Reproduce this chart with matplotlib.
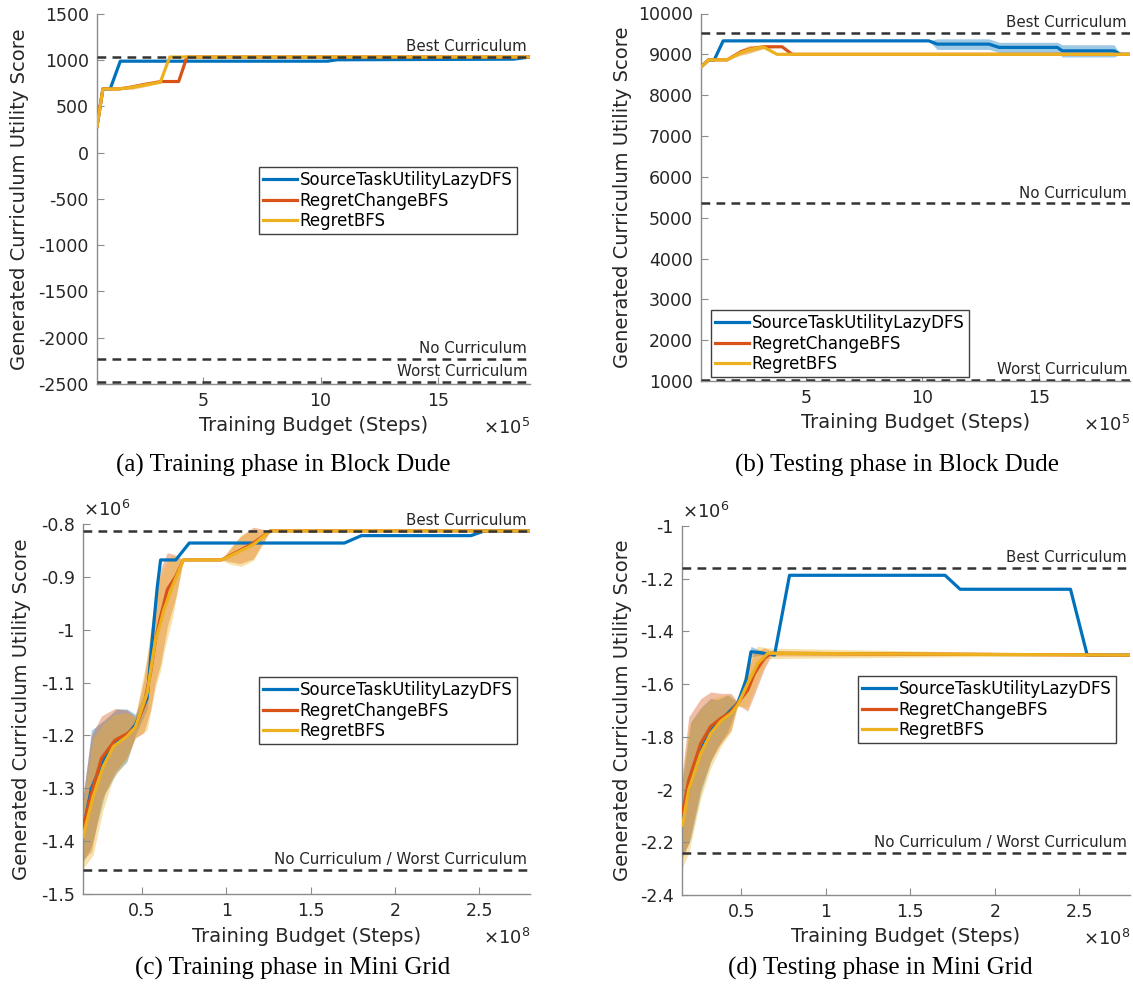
import numpy as np
import matplotlib
matplotlib.use("Agg")
import matplotlib.pyplot as plt
from matplotlib.ticker import FormatStrFormatter

# Series names and MATLAB default colours
nomes = ["SourceTaskUtilityLazyDFS", "RegretChangeBFS", "RegretBFS"]
cores = ["#0072BD", "#D95319", "#EDB120"]

# ---- (a) Training phase in Block Dude (x em 1e5 passos) ----
a_blue_x = [0.5, 0.75, 1.06, 1.49, 10.3, 10.7, 18.2, 18.9]
a_blue_y = [285, 690, 690, 990, 990, 1005, 1012, 1035]
a_blue_err = [0, 0, 0, 0, 0, 5, 5, 0]
a_red_x = [0.5, 0.75, 1.45, 2.0, 2.5, 3.23, 3.97, 4.32, 18.9]
a_red_y = [285, 690, 690, 712, 738, 770, 770, 1035, 1035]
a_red_err = [0, 0, 5, 22, 22, 10, 0, 0, 0]
a_yel_x = [0.5, 0.75, 1.45, 2.0, 2.5, 3.19, 3.59, 18.9]
a_yel_y = [285, 690, 690, 708, 732, 762, 1035, 1035]
a_yel_err = [0, 0, 5, 22, 22, 10, 0, 0]
a_refs = [(1035, "Best Curriculum"), (-2230, "No Curriculum"), (-2480, "Worst Curriculum")]

# ---- (b) Testing phase in Block Dude ----
b_blue_x = [0.5, 0.83, 1.07, 1.45, 10.27, 10.63, 12.85, 13.28, 15.78, 16.0, 18.21, 18.5, 18.9]
b_blue_y = [8690, 8865, 8865, 9330, 9330, 9250, 9250, 9170, 9170, 9085, 9085, 9000, 9000]
b_blue_err = [0, 0, 0, 0, 0, 130, 130, 125, 125, 150, 150, 0, 0]
b_red_x = [0.5, 0.83, 1.62, 2.2, 2.6, 3.19, 3.98, 4.41, 18.9]
b_red_y = [8690, 8865, 8865, 9060, 9130, 9185, 9185, 9000, 9000]
b_red_err = [0, 0, 0, 70, 90, 40, 0, 0, 0]
b_yel_x = [0.5, 0.83, 1.62, 2.2, 2.6, 3.18, 3.76, 18.9]
b_yel_y = [8690, 8865, 8865, 9040, 9120, 9180, 9000, 9000]
b_yel_err = [0, 0, 0, 70, 90, 40, 0, 0]
b_refs = [(9530, "Best Curriculum"), (5350, "No Curriculum"), (1030, "Worst Curriculum")]

# ---- (c) Training phase in Mini Grid (x em 1e8, y em 1e6) ----
c_blue_x = [0.15, 0.2, 0.28, 0.35, 0.41, 0.46, 0.53, 0.56, 0.59, 0.61, 0.70, 0.78, 1.70, 1.80, 2.45, 2.53, 2.8]
c_blue_y = [-1.38, -1.30, -1.24, -1.21, -1.20, -1.18, -1.13, -1.02, -0.92, -0.868, -0.868, -0.836, -0.836,
            -0.822, -0.822, -0.813, -0.813]
c_blue_err = [0.06, 0.11, 0.07, 0.06, 0.05, 0.02, 0.02, 0.02, 0.01, 0, 0, 0, 0, 0, 0, 0, 0]
c_red_x = [0.15, 0.20, 0.26, 0.34, 0.41, 0.46, 0.51, 0.55, 0.58, 0.61, 0.65, 0.70, 0.745, 0.97, 1.08, 1.16, 1.26, 2.8]
c_red_y = [-1.375, -1.31, -1.243, -1.209, -1.197, -1.185, -1.145, -1.082, -1.019, -0.975, -0.924, -0.899,
           -0.868, -0.868, -0.85, -0.836, -0.813, -0.813]
c_red_err = [0.06, 0.11, 0.08, 0.06, 0.045, 0.02, 0.05, 0.07, 0.08, 0.09, 0.07, 0.04, 0, 0, 0.025, 0.03, 0, 0]
c_yel_x = [0.15, 0.21, 0.27, 0.33, 0.41, 0.46, 0.53, 0.58, 0.61, 0.63, 0.68, 0.745, 0.97, 1.02, 1.09, 1.16, 1.26, 2.8]
c_yel_y = [-1.392, -1.316, -1.259, -1.221, -1.202, -1.185, -1.12, -1.019, -0.987, -0.962, -0.918, -0.868,
           -0.868, -0.861, -0.85, -0.839, -0.813, -0.813]
c_yel_err = [0.06, 0.11, 0.08, 0.06, 0.045, 0.02, 0.07, 0.09, 0.09, 0.08, 0.06, 0, 0, 0.015, 0.03, 0.03, 0, 0]
c_refs = [(-0.813, "Best Curriculum"), (-1.455, "No Curriculum / Worst Curriculum")]

# ---- (d) Testing phase in Mini Grid ----
d_blue_x = [0.153, 0.202, 0.261, 0.32, 0.36, 0.42, 0.479, 0.529, 0.558, 0.607, 0.697, 0.786, 1.706, 1.795,
            2.448, 2.547, 2.8]
d_blue_y = [-2.109, -1.964, -1.85, -1.774, -1.749, -1.711, -1.673, -1.584, -1.477, -1.48, -1.49, -1.187,
            -1.187, -1.24, -1.24, -1.49, -1.49]
d_blue_err = [0.15, 0.22, 0.16, 0.12, 0.09, 0.07, 0.005, 0.03, 0.02, 0.01, 0, 0, 0, 0, 0, 0, 0]
d_red_x = [0.153, 0.19, 0.261, 0.32, 0.38, 0.44, 0.479, 0.539, 0.578, 0.637, 0.677, 2.8]
d_red_y = [-2.09, -1.964, -1.825, -1.76, -1.73, -1.705, -1.673, -1.622, -1.56, -1.502, -1.483, -1.49]
d_red_err = [0.16, 0.24, 0.17, 0.13, 0.095, 0.07, 0.005, 0.08, 0.08, 0.04, 0.01, 0]
d_yel_x = [0.153, 0.19, 0.261, 0.32, 0.38, 0.44, 0.479, 0.539, 0.598, 0.657, 2.8]
d_yel_y = [-2.135, -2.0, -1.863, -1.787, -1.74, -1.711, -1.68, -1.597, -1.521, -1.483, -1.49]
d_yel_err = [0.16, 0.24, 0.17, 0.13, 0.095, 0.07, 0.005, 0.09, 0.065, 0.02, 0]
d_refs = [(-1.16, "Best Curriculum"), (-2.24, "No Curriculum / Worst Curriculum")]

legendas = ["(a) Training phase in Block Dude", "(b) Testing phase in Block Dude",
            "(c) Training phase in Mini Grid", "(d) Testing phase in Mini Grid"]

plt.rcParams["font.family"] = "DejaVu Sans"
plt.rcParams["axes.unicode_minus"] = False

W, H = 1133, 998
fig = plt.figure(figsize=(W / 100, H / 100), dpi=100)

cor_eixo = "#8c8c8c"
cor_texto = "#262626"


def novo_eixo(l, t, r, b):
    return fig.add_axes([l / W, 1 - b / H, (r - l) / W, (b - t) / H])


def desenhar(ax, series, refs, xlim, ylim, xticks, yticks, leg_pos, box_px, xmult, ymult=None):
    for (x, y, e), cor, nome in zip(series, cores, nomes):
        x = np.array(x); y = np.array(y); e = np.array(e)
        ax.fill_between(x, y - e, y + e, color=cor, alpha=0.38, linewidth=0)
    for (x, y, e), cor, nome in zip(series, cores, nomes):
        ax.plot(x, y, color=cor, lw=2.3, label=nome, zorder=3)
    for val, txt in refs:
        ax.axhline(val, color="#333333", lw=1.8, ls=(0, (3.5, 2.5)), zorder=4)
        ax.annotate(txt, xy=(1, val), xycoords=("axes fraction", "data"), xytext=(-2, 2),
                    textcoords="offset points", ha="right", va="bottom", fontsize=10.8, color=cor_texto)
    ax.set_xlim(xlim)
    ax.set_ylim(ylim)
    ax.set_xticks(xticks)
    ax.set_yticks(yticks)
    ax.yaxis.set_major_formatter(FormatStrFormatter("%g"))
    ax.xaxis.set_major_formatter(FormatStrFormatter("%g"))
    for s in ["top", "right"]:
        ax.spines[s].set_visible(False)
    for s in ["left", "bottom"]:
        ax.spines[s].set_color(cor_eixo)
        ax.spines[s].set_linewidth(1.0)
    ax.tick_params(direction="in", length=5, width=0.8, color=cor_eixo, labelcolor=cor_texto,
                   labelsize=12.5, pad=6)
    l, t, r, b = box_px
    ax.set_xlabel("Training Budget (Steps)", fontsize=14, color=cor_texto)
    ax.xaxis.set_label_coords(0.5, -42 / (b - t), transform=ax.transAxes)
    ax.xaxis.label.set_va("center")
    ax.set_ylabel("Generated Curriculum Utility Score", fontsize=14, color=cor_texto)
    ax.yaxis.label.set_va("center")
    # multiplicadores estilo MATLAB
    ax.text(1.0, -44 / (b - t), r"$\times10^{%d}$" % xmult, transform=ax.transAxes,
            ha="right", va="center", fontsize=13, color=cor_texto)
    if ymult is not None:
        ax.text(0.0, 1.0 + 14 / (b - t), r"$\times10^{%d}$" % ymult, transform=ax.transAxes,
                ha="left", va="center", fontsize=13, color=cor_texto)
    lx, ly = leg_pos
    leg = ax.legend(loc="upper left", bbox_to_anchor=(lx / W, 1 - ly / H), bbox_transform=fig.transFigure,
                    borderaxespad=0, fontsize=12, frameon=True, fancybox=False, framealpha=1,
                    edgecolor="#404040", handlelength=2.0, handletextpad=0.2, labelspacing=0.15,
                    borderpad=0.25)
    leg.get_frame().set_linewidth(1.0)
    for tx in leg.get_texts():
        tx.set_color("black")


caixas = [(97, 14, 530, 384), (701, 13.5, 1130, 381), (83, 524, 530, 894), (682, 526, 1130, 895)]
ylabel_x = [20, 622, 22, 622]

ax_a = novo_eixo(*caixas[0])
desenhar(ax_a, [(a_blue_x, a_blue_y, a_blue_err), (a_red_x, a_red_y, a_red_err), (a_yel_x, a_yel_y, a_yel_err)],
         a_refs, (0.5, 18.9), (-2500, 1500), [5, 10, 15], np.arange(-2500, 1501, 500),
         (259, 167), caixas[0], 5)

ax_b = novo_eixo(*caixas[1])
desenhar(ax_b, [(b_blue_x, b_blue_y, b_blue_err), (b_red_x, b_red_y, b_red_err), (b_yel_x, b_yel_y, b_yel_err)],
         b_refs, (0.5, 18.9), (1000, 10000), [5, 10, 15], np.arange(1000, 10001, 1000),
         (711, 310), caixas[1], 5)

ax_c = novo_eixo(*caixas[2])
desenhar(ax_c, [(c_blue_x, c_blue_y, c_blue_err), (c_red_x, c_red_y, c_red_err), (c_yel_x, c_yel_y, c_yel_err)],
         c_refs, (0.15, 2.8), (-1.5, -0.8), [0.5, 1, 1.5, 2, 2.5], np.round(np.arange(-1.5, -0.79, 0.1), 1),
         (259, 677), caixas[2], 8, 6)

ax_d = novo_eixo(*caixas[3])
desenhar(ax_d, [(d_blue_x, d_blue_y, d_blue_err), (d_red_x, d_red_y, d_red_err), (d_yel_x, d_yel_y, d_yel_err)],
         d_refs, (0.15, 2.8), (-2.4, -1.0), [0.5, 1, 1.5, 2, 2.5], np.round(np.arange(-2.4, -0.99, 0.2), 1),
         (858, 676), caixas[3], 8, 6)

for ax, cx, (l, t, r, b) in zip([ax_a, ax_b, ax_c, ax_d], ylabel_x, caixas):
    ax.yaxis.set_label_coords((cx - l) / (r - l), 0.5)

# legendas das subfiguras (fonte serifada)
pos_leg = [(283, 465), (897, 465), (293, 968), (880, 968)]
for (x, y), txt in zip(pos_leg, legendas):
    fig.text(x / W, 1 - y / H, txt, ha="center", va="center", fontsize=18,
             family="Liberation Serif", color="black")

fig.savefig("out.png", dpi=100)
